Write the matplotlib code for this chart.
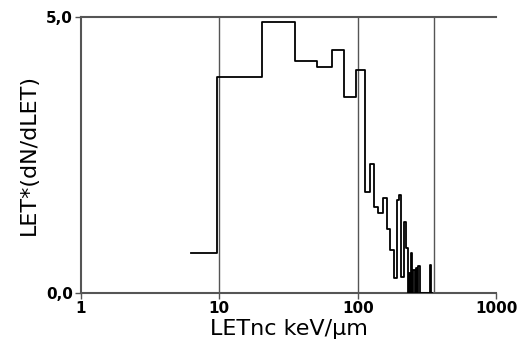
import numpy as np
import matplotlib
matplotlib.use("Agg")
import matplotlib.pyplot as plt

# Bin edges (keV/um) and step values LET*(dN/dLET)
edges = [6.24, 9.62, 20.4, 35.3, 50.9, 65.3, 79.8, 97.3, 113.2, 123.0, 131.4,
         140.5, 152.7, 163.3, 171.5, 183.3, 192.7, 199.2, 206.0, 216.6, 223.9,
         229.0, 233.0, 237.0, 242.0, 247.0, 252.0, 258.0, 262.0, 268.0, 273.0,
         280.0, 330.0, 340.0, 345.0]
values = [0.72, 3.91, 4.91, 4.20, 4.09, 4.40, 3.55, 4.04, 1.83, 2.34,
          1.56, 1.45, 1.72, 1.16, 0.78, 0.27, 1.68, 1.78, 0.29, 1.29,
          0.82, 0.00, 0.36, 0.00, 0.72, 0.00, 0.42, 0.00, 0.45, 0.00,
          0.48, 0.00, 0.51, 0.00]
grid_x = [10, 100, 357]
xticks = [1, 10, 100, 1000]
xticklabels = ["1", "10", "100", "1000"]
yticks = [0.0, 5.0]
yticklabels = ["0,0", "5,0"]

fig = plt.figure(figsize=(5.19, 3.52), dpi=100)
ax = fig.add_axes([0.156, 0.168, 0.80, 0.784])

for gx in grid_x:
    ax.axvline(gx, color="#555555", lw=1.0, zorder=1)

xs = np.array(edges)
ys = np.array(values + [values[-1]])
ax.step(xs, ys, where="post", color="black", lw=1.3, zorder=3)

ax.set_xscale("log")
ax.set_xlim(1, 1000)
ax.set_ylim(0, 5.0)
ax.set_xticks(xticks)
ax.set_xticklabels(xticklabels)
ax.minorticks_off()
ax.set_yticks(yticks)
ax.set_yticklabels(yticklabels)

ax.spines["right"].set_visible(False)
for sp in ["left", "bottom", "top"]:
    ax.spines[sp].set_color("#555555")
    ax.spines[sp].set_linewidth(1.5)
ax.tick_params(axis="both", colors="#555555", length=4, width=1,
               labelsize=11, labelcolor="black", pad=2)
for lab in ax.get_xticklabels() + ax.get_yticklabels():
    lab.set_fontweight("bold")

ax.set_xlabel("LETnc keV/µm", fontsize=16, labelpad=2)
ax.set_ylabel("LET*(dN/dLET)", fontsize=16, labelpad=5)

fig.savefig("out.png", dpi=100)
